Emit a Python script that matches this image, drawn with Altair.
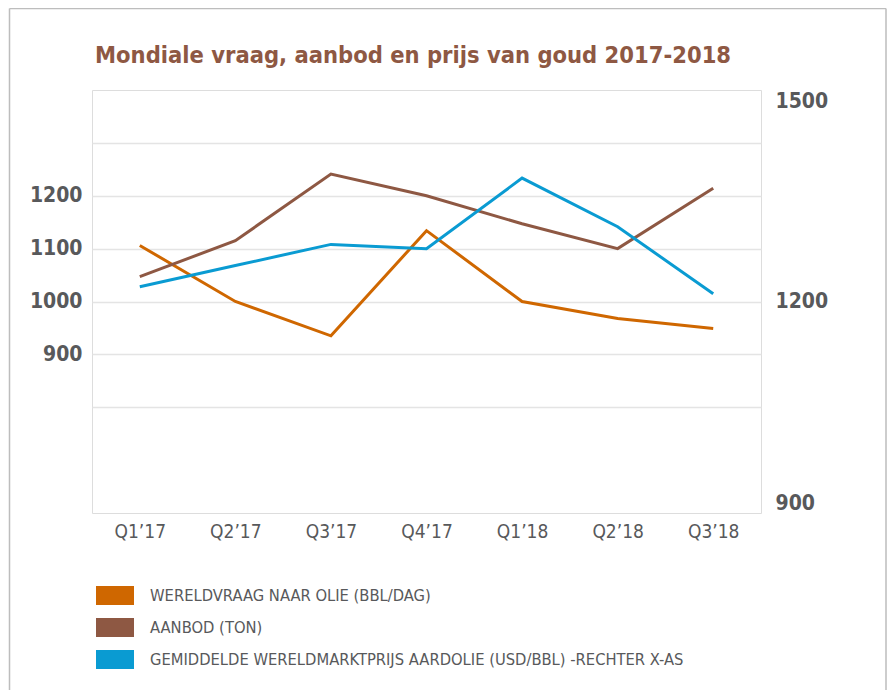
import altair as alt
import pandas as pd

title_text = "Mondiale vraag, aanbod en prijs van goud 2017-2018"
quarters = ["Q1’17", "Q2’17", "Q3’17", "Q4’17", "Q1’18", "Q2’18", "Q3’18"]

demand_name = "WERELDVRAAG NAAR OLIE (BBL/DAG)"
supply_name = "AANBOD (TON)"
price_name = "GEMIDDELDE WERELDMARKTPRIJS AARDOLIE (USD/BBL) -RECHTER X-AS"

demand = [1106, 1000, 935, 1134, 1000, 968, 949]
supply = [1047, 1115, 1241, 1200, 1147, 1100, 1214]
price = [1221, 1251, 1281, 1275, 1375, 1306, 1211]

series_names = [demand_name, supply_name, price_name]
series_colors = ["#cf6700", "#8e5843", "#0a9bd2"]

left_grid_values = [800, 900, 1000, 1100, 1200, 1300]
right_values = [900, 1200, 1500]

rows = []
for name, vals in [(demand_name, demand), (supply_name, supply), (price_name, price)]:
    for q, v in zip(quarters, vals):
        rows.append({"quarter": q, "series": name, "value": v})
df = pd.DataFrame(rows)

FONT = "DejaVu Sans Condensed, sans-serif"
GREY = "#58595b"

x_enc = alt.X(
    "quarter:N",
    sort=quarters,
    scale=alt.Scale(type="point", padding=0.5),
    axis=alt.Axis(
        title=None, labelFont=FONT, labelFontSize=19, labelColor=GREY,
        labelPadding=9, ticks=False, domain=False, labelAngle=0, grid=False,
    ),
)
color_scale = alt.Scale(domain=series_names, range=series_colors)

base = alt.Chart(df).encode(
    x=x_enc,
    color=alt.Color("series:N", scale=color_scale, legend=None),
)

left = base.transform_filter(
    alt.FieldOneOfPredicate(field="series", oneOf=[demand_name, supply_name])
).mark_line(strokeWidth=3).encode(
    y=alt.Y(
        "value:Q",
        scale=alt.Scale(domain=[600, 1400], nice=False, zero=False),
        axis=alt.Axis(
            title=None, values=left_grid_values,
            labelExpr="datum.value >= 900 && datum.value <= 1200 ? datum.label : ''",
            labelFont=FONT, labelFontSize=21, labelFontWeight="bold", labelColor=GREY,
            labelPadding=10, ticks=False, domain=False, grid=True,
            gridColor="#e4e4e4", gridWidth=1.5, format="d",
        ),
    )
)

right = base.transform_filter(
    alt.FieldEqualPredicate(field="series", equal=price_name)
).mark_line(strokeWidth=3).encode(
    y=alt.Y(
        "value:Q",
        scale=alt.Scale(domain=[900, 1500], nice=False, zero=False),
        axis=alt.Axis(
            title=None, orient="right", values=right_values, labelFlush=True,
            labelFont=FONT, labelFontSize=21, labelFontWeight="bold", labelColor=GREY,
            labelPadding=14, ticks=False, domain=False, grid=False, format="d",
        ),
    )
)

# legend source: filled rectangles (no data drawn, domain comes from the scale)
legend_src = alt.Chart(df).transform_filter("datum.value < 0").mark_point(
    filled=True, opacity=1
).encode(
    color=alt.Color(
        "series:N", scale=color_scale,
        legend=alt.Legend(
            title=None, orient="none", legendX=4, legendY=486.5, direction="vertical",
            symbolType="M-1,-0.5L1,-0.5L1,0.5L-1,0.5Z", symbolSize=1444,
            symbolStrokeWidth=0, symbolOpacity=1,
            labelFont=FONT, labelFontSize=16.4, labelColor=GREY, labelOffset=16,
            labelLimit=800, rowPadding=3,
        ),
    ),
)

# outer card frame (decoration): left, top and right edges
one = pd.DataFrame({"k": [0]})
FRAME = dict(stroke="#bdbdbd", strokeWidth=1.5)
frame_left = alt.Chart(one).mark_rule(**FRAME).encode(
    x=alt.value(-82.5), y=alt.value(-81.5), y2=alt.value(620)
)
frame_top = alt.Chart(one).mark_rule(**FRAME).encode(
    x=alt.value(-82.5), x2=alt.value(794), y=alt.value(-81.5)
)
frame_right = alt.Chart(one).mark_rule(**FRAME).encode(
    x=alt.value(794), y=alt.value(-81.5), y2=alt.value(620)
)

title = alt.Chart(pd.DataFrame({"t": [title_text]})).mark_text(
    align="left", baseline="alphabetic", font=FONT, fontSize=23.5, fontWeight="bold",
    color="#8e5843",
).encode(text="t:N", x=alt.value(3), y=alt.value(-27))

chart = alt.layer(
    frame_left, frame_top, frame_right, title, legend_src, left, right
).resolve_scale(
    y="independent"
).properties(
    width=669,
    height=423,
    autosize=alt.AutoSizeParams(type="none"),
    padding={"left": 84, "top": 82, "right": 126, "bottom": 177},
).configure_view(stroke="#c8c8c8", strokeWidth=1.5).configure(background="white")

chart.save("out.html", embed_options={"renderer": "svg", "actions": False})
